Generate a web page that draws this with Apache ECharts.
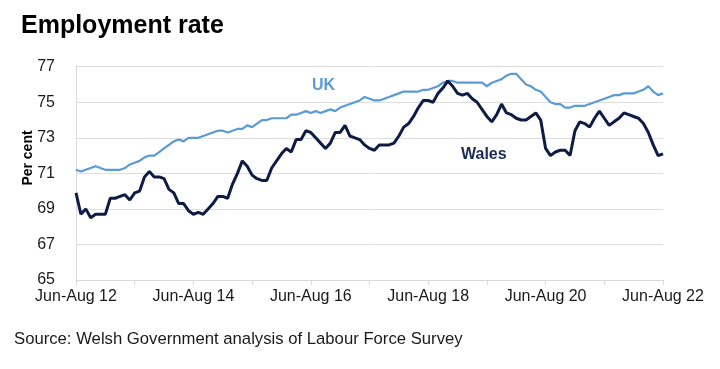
<!DOCTYPE html>
<html>
<head>
<meta charset="utf-8">
<script src="https://cdn.jsdelivr.net/npm/echarts@6/dist/echarts.min.js"></script>
<style>
html,body{margin:0;padding:0;background:#fff;}
#chart{width:720px;height:369px;}
</style>
</head>
<body>
<div id="chart"></div>
<script>
// Rolling three-month periods, Jun-Aug 2012 to Jun-Aug 2022
var monthAbbr = ['Jan','Feb','Mar','Apr','May','Jun','Jul','Aug','Sep','Oct','Nov','Dec'];
var categories = [];
for (var k = 0; k <= 120; k++) {
  var s = 5 + k, e = s + 2;
  var yr = 12 + Math.floor(e / 12);
  categories.push(monthAbbr[s % 12] + '-' + monthAbbr[e % 12] + ' ' + yr);
}

var ukValues = [
71.2,71.1,71.2,71.3,71.4,71.3,71.2,71.2,71.2,71.2,71.3,71.5,
71.6,71.7,71.9,72.0,72.0,72.2,72.4,72.6,72.8,72.9,72.8,73.0,
73.0,73.0,73.1,73.2,73.3,73.4,73.4,73.3,73.4,73.5,73.5,73.7,
73.6,73.8,74.0,74.0,74.1,74.1,74.1,74.1,74.3,74.3,74.4,74.5,
74.4,74.5,74.4,74.5,74.6,74.5,74.7,74.8,74.9,75.0,75.1,75.3,
75.2,75.1,75.1,75.2,75.3,75.4,75.5,75.6,75.6,75.6,75.6,75.7,
75.7,75.8,75.9,76.1,76.2,76.2,76.1,76.1,76.1,76.1,76.1,76.1,
75.9,76.1,76.2,76.3,76.5,76.6,76.6,76.3,76.0,75.9,75.7,75.6,
75.3,75.0,74.9,74.9,74.7,74.7,74.8,74.8,74.8,74.9,75.0,75.1,
75.2,75.3,75.4,75.4,75.5,75.5,75.5,75.6,75.7,75.9,75.6,75.4,
75.5
];

var walesValues = [
69.9,68.7,69.0,68.5,68.7,68.7,68.7,69.6,69.6,69.7,69.8,69.5,
69.9,70.0,70.8,71.1,70.8,70.8,70.7,70.1,69.9,69.3,69.3,68.9,
68.7,68.8,68.7,69.0,69.3,69.7,69.7,69.6,70.4,71.0,71.7,71.4,
70.9,70.7,70.6,70.6,71.3,71.7,72.1,72.4,72.2,72.9,72.9,73.4,
73.3,73.0,72.7,72.4,72.7,73.3,73.3,73.7,73.1,73.0,72.9,72.6,
72.4,72.3,72.6,72.6,72.6,72.7,73.1,73.6,73.8,74.2,74.7,75.1,
75.1,75.0,75.5,75.8,76.2,75.9,75.5,75.4,75.5,75.2,75.0,74.6,
74.2,73.9,74.3,74.9,74.4,74.3,74.1,74.0,74.0,74.2,74.4,74.0,
72.4,72.0,72.2,72.3,72.3,72.0,73.4,73.9,73.8,73.6,74.1,74.5,
74.1,73.7,73.9,74.1,74.4,74.3,74.2,74.1,73.8,73.3,72.6,72.0,
72.1
];

var yMin = 65, yMax = 77, yStep = 2;

var chart = echarts.init(document.getElementById('chart'), null, {renderer: 'canvas'});
var font = 'Liberation Sans, Arial, sans-serif';
chart.setOption({
  backgroundColor: '#ffffff',
  animation: false,
  grid: {left: 76, right: 57, top: 66.7, bottom: 89, containLabel: false},
  title: {
    text: 'Employment rate', left: 16, top: 9,
    textStyle: {fontFamily: font, fontSize: 25, fontWeight: 'bold', color: '#000'}
  },
  xAxis: {
    type: 'category', boundaryGap: false, data: categories,
    axisLine: {show: true, lineStyle: {color: '#d9d9d9', width: 1}},
    axisTick: {show: true, length: 5, lineStyle: {color: '#d9d9d9'},
      interval: function (i) { return i % 12 === 0; }},
    axisLabel: {
      interval: function (i) { return i % 24 === 0; },
      fontFamily: font, fontSize: 16, color: '#1a1a1a', margin: 9
    },
    splitLine: {show: false}
  },
  yAxis: {
    type: 'value', min: yMin, max: yMax, interval: yStep,
    axisLine: {show: true, lineStyle: {color: '#d9d9d9'}},
    axisTick: {show: false},
    axisLabel: {fontFamily: font, fontSize: 16, color: '#1a1a1a', margin: 21},
    splitLine: {show: true, lineStyle: {color: '#dedede', width: 1}}
  },
  series: [
    {name: 'UK', type: 'line', data: ukValues, showSymbol: false,
     lineStyle: {color: '#5b9bd5', width: 2.2}, itemStyle: {color: '#5b9bd5'}},
    {name: 'Wales', type: 'line', data: walesValues, showSymbol: false,
     lineStyle: {color: '#0e1c45', width: 3}, itemStyle: {color: '#0e1c45'}}
  ],
  graphic: [
    {type: 'text', x: 28, y: 158, rotation: Math.PI / 2,
     style: {text: 'Per cent', fill: '#000', font: 'bold 14px ' + font,
             textAlign: 'center', textVerticalAlign: 'middle'}},
    {type: 'text', left: 312, top: 78,
     style: {text: 'UK', fill: '#5b9bd5', font: 'bold 16px ' + font}},
    {type: 'text', left: 461, top: 147,
     style: {text: 'Wales', fill: '#1b2a55', font: 'bold 16px ' + font}},
    {type: 'text', left: 14, top: 331,
     style: {text: 'Source: Welsh Government analysis of Labour Force Survey', fill: '#1a1a1a', font: '16.7px ' + font}}
  ]
});
</script>
</body>
</html>
